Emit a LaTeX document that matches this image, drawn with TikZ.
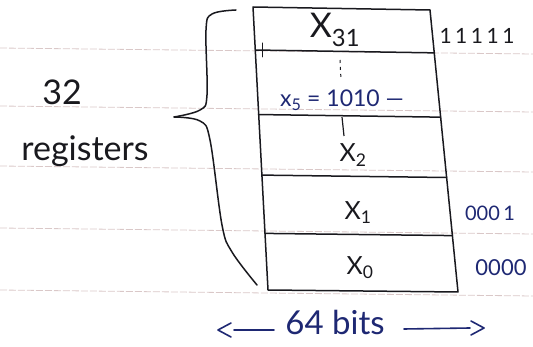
\documentclass[tikz,border=0pt]{standalone}
\usepackage{fontspec}
\setmainfont{Lato}
\usetikzlibrary{arrows.meta,calc}
\definecolor{ink}{RGB}{25,25,30}
\definecolor{pen}{RGB}{30,40,115}
\definecolor{rulecol}{RGB}{218,200,200}

\begin{document}
\begin{tikzpicture}[x=1pt,y=-1pt]
\tikzset{
  stroke/.style={draw=ink,line width=1.5pt,line cap=round,line join=round},
  reglabel/.style={font=\fontsize{25}{27}\selectfont,text=ink,inner sep=1pt},
  bitlabel/.style={font=\fontsize{20}{22}\selectfont,text=pen,inner sep=1pt},
  sidelabel/.style={font=\fontsize{34}{36}\selectfont,text=ink,inner sep=1pt},
  ruling/.style={draw=rulecol,line width=0.8pt,dash pattern=on 7pt off 2pt},
  bitarrow/.style={draw=pen,line width=1.6pt,line cap=round,line join=round}
}
\useasboundingbox (0,0) rectangle (533,347);
% ruled paper
\foreach \y in {48,106,166,228,290}
  \draw[ruling] (0,\y) -- (533,\y+6);
% register file
\coordinate (c_tl) at (253,7);
\coordinate (c_tr) at (430,10);
\coordinate (c_br) at (458,292);
\coordinate (c_bl) at (268,290);
\draw[stroke] (c_tl) -- (c_tr) -- (c_br) -- (c_bl) -- cycle;
\foreach \t [count=\i] in {0.152,0.38,0.594,0.80}
  \draw[stroke] ($(c_tl)!\t!(c_bl)$) coordinate (c_dl\i) -- ($(c_tr)!\t!(c_br)$) coordinate (c_dr\i);
\draw[stroke,line width=1pt] (262,43) -- (262,57);
% register names
\node[reglabel,font=\fontsize{34}{36}\selectfont] (n_x31) at (335,30) {X\textsubscript{31}};
\node[bitlabel,font=\fontsize{23}{25}\selectfont] (n_x5) at (342,100) {x\textsubscript{5} = 1010 ---};
\node[reglabel] (n_x2) at (353,155) {X\textsubscript{2}};
\node[reglabel] (n_x1) at (358,213) {X\textsubscript{1}};
\node[reglabel] (n_x0) at (360,268) {X\textsubscript{0}};
\draw[ink,line width=1pt,dash pattern=on 3pt off 4pt] (340,60) -- (341,80);
\draw[ink,line width=1.2pt] (342,117) -- (344,136);
% bit values
\node[bitlabel,text=ink,font=\fontsize{21}{22}\selectfont] (n_b31) at (477,36) {1\,1\,1\,1\,1};
\node[bitlabel] (n_b1) at (490,213) {000\,1};
\node[bitlabel,font=\fontsize{22}{24}\selectfont] (n_b0) at (501,268) {0000};
% brace and count
\draw[stroke] plot[smooth,tension=0.6] coordinates {(236,10) (212,14) (206,30) (207,95) (200,110) (174,117)};
\draw[stroke] plot[smooth,tension=0.6] coordinates {(174,117) (200,121) (210,140) (222,225) (232,252) (257,285)};
\node[sidelabel] (n_count) at (62,92) {32};
\node[sidelabel] (n_regs) at (85,151) {registers};
% width
\node[sidelabel,font=\fontsize{33}{35}\selectfont,text=pen] (n_bits) at (335,322) {64 bits};
\coordinate (c_wl) at (218,330);
\coordinate (c_wr) at (484,328);
\draw[bitarrow] ($(n_bits.west)+(-10,8)$) -- ($(c_wl)+(16,0)$)
  (c_wl) ++(13,-7) -- (c_wl) -- ++(13,7);
\draw[bitarrow] ($(n_bits.east)+(18,7)$) -- ($(c_wr)+(-14,0)$)
  (c_wr) ++(-13,-7) -- (c_wr) -- ++(-13,7);
\end{tikzpicture}
\end{document}
